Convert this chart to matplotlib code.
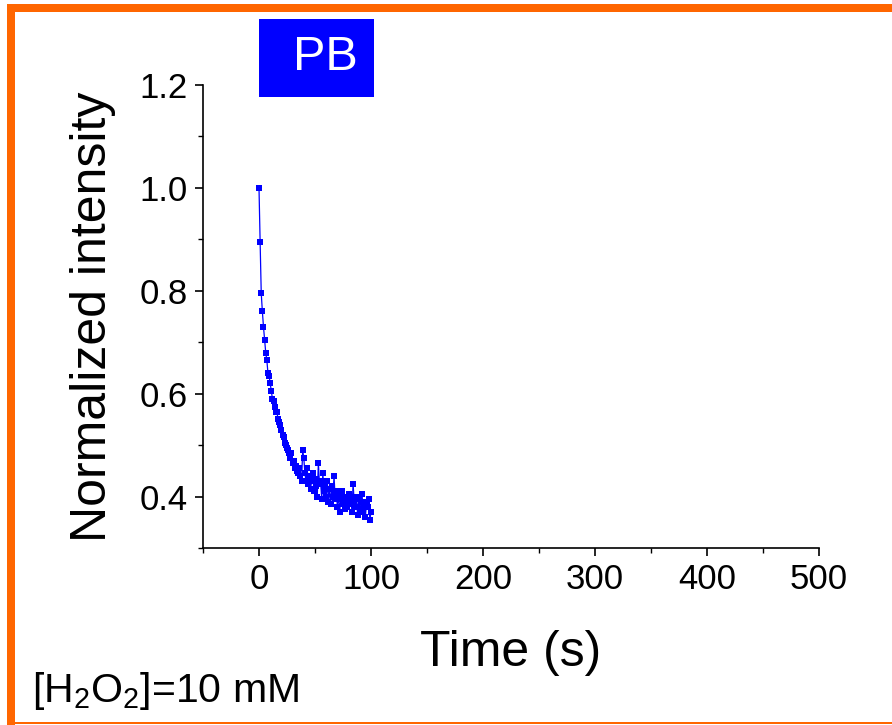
import numpy as np
import matplotlib
matplotlib.use("Agg")
import matplotlib.pyplot as plt
from matplotlib.patches import Rectangle

plt.rcParams["font.family"] = ["Liberation Sans", "DejaVu Sans"]
plt.rcParams["mathtext.default"] = "regular"

# Photobleaching decay, PB sample, 10 mM H2O2
time_s = list(range(0, 101))
intensity = [
    1.000, 0.895, 0.795, 0.760, 0.730, 0.705, 0.680, 0.665, 0.640, 0.635,
    0.620, 0.605, 0.590, 0.585, 0.575, 0.565, 0.565, 0.550, 0.545, 0.540,
    0.530, 0.520, 0.515, 0.505, 0.500, 0.495, 0.490, 0.485, 0.475, 0.485,
    0.465, 0.470, 0.455, 0.460, 0.450, 0.445, 0.455, 0.440, 0.430, 0.490,
    0.475, 0.445, 0.430, 0.455, 0.425, 0.440, 0.415, 0.430, 0.445, 0.410,
    0.435, 0.420, 0.400, 0.465, 0.425, 0.430, 0.395, 0.445, 0.410, 0.420,
    0.400, 0.430, 0.390, 0.415, 0.385, 0.420, 0.400, 0.440, 0.395, 0.410,
    0.380, 0.405, 0.370, 0.395, 0.410, 0.385, 0.400, 0.375, 0.395, 0.380,
    0.405, 0.385, 0.400, 0.370, 0.425, 0.390, 0.380, 0.400, 0.365, 0.395,
    0.375, 0.390, 0.405, 0.370, 0.385, 0.360, 0.390, 0.380, 0.395, 0.355,
    0.370,
]
x_ticks = [0, 100, 200, 300, 400, 500]
y_ticks = [0.4, 0.6, 0.8, 1.0, 1.2]

W, H = 892, 725
fig = plt.figure(figsize=(W / 100, H / 100), dpi=100)


def px(x0, y0, x1, y1):
    """pixel box (top-left origin) -> figure fraction [left, bottom, w, h]"""
    return [x0 / W, 1 - y1 / H, (x1 - x0) / W, (y1 - y0) / H]


ax = fig.add_axes(px(203, 85, 819, 548))
ax.plot(time_s, intensity, color="#0000FF", linewidth=0.9,
        marker="s", markersize=5, markeredgewidth=0)

ax.set_xlim(-50, 500)
ax.set_ylim(0.3, 1.2)
ax.set_xticks(x_ticks)
ax.set_yticks(y_ticks)
ax.set_xticks(np.arange(-50, 501, 100), minor=True)
ax.set_yticks(np.arange(0.3, 1.21, 0.2), minor=True)
ax.set_xticklabels([str(v) for v in x_ticks])
ax.set_yticklabels([f"{v:.1f}" for v in y_ticks])
ax.tick_params(which="major", direction="out", length=6, width=1.2,
               labelsize=25, pad=5)
ax.tick_params(which="minor", direction="out", length=3.5, width=1.0)
for s in ["top", "right"]:
    ax.spines[s].set_visible(False)
for s in ["left", "bottom"]:
    ax.spines[s].set_linewidth(1.2)

ax.set_xlabel("Time (s)", fontsize=36, labelpad=24)
ax.set_ylabel("Normalized intensity", fontsize=36, labelpad=17)

# orange frame (top, left thick; bottom thin)
orange = "#FF6600"
for box in [(7, 4, W, 12), (7, 4, 15, H), (7, 722, W, 724)]:
    l, b, w, h = px(*box)
    fig.patches.append(Rectangle((l, b), w, h, transform=fig.transFigure,
                                 facecolor=orange, edgecolor="none"))

# blue label box
l, b, w, h = px(259, 19, 374, 97)
fig.patches.append(Rectangle((l, b), w, h, transform=fig.transFigure,
                             facecolor="#0000FF", edgecolor="none"))
fig.text(325 / W, b + h / 2, "PB", color="white", fontsize=35,
         ha="center", va="center")

fig.text(32 / W, 1 - 702 / H, "[H$_2$O$_2$]=10 mM", fontsize=29.5,
         ha="left", va="baseline")

fig.savefig("out.png", dpi=100)
